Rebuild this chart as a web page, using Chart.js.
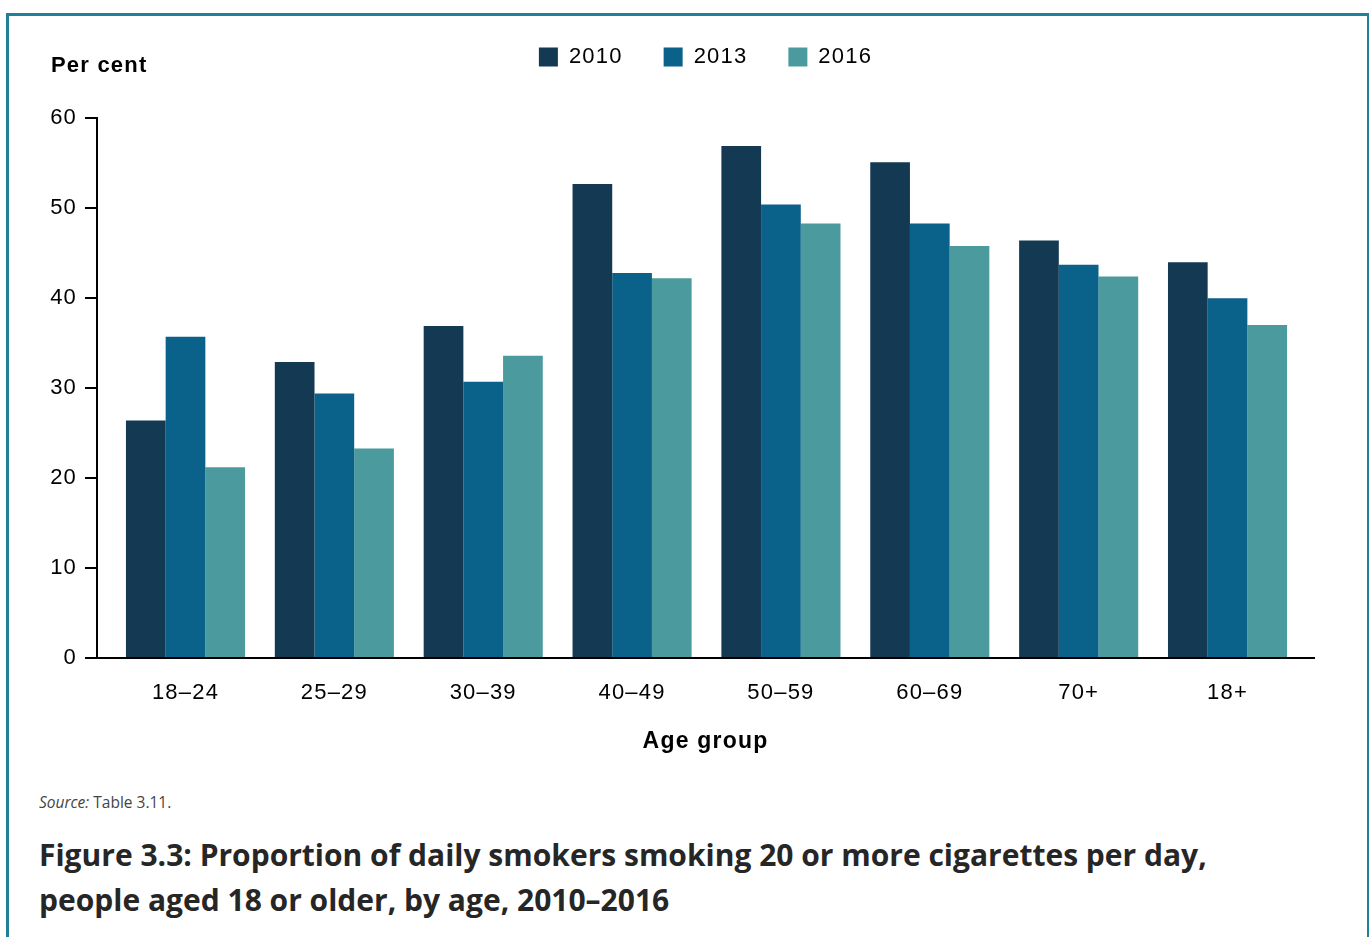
<!DOCTYPE html>
<html>
<head>
<meta charset="utf-8">
<script src="https://cdn.jsdelivr.net/npm/chart.js@4"></script>
<style>
  body { margin: 0; background: #fff; width: 1369px; height: 937px; overflow: hidden; position: relative; }
  #frame { position: absolute; left: 6px; top: 13px; width: 1358px; height: 940px; border: 3px solid #1f8097; border-bottom: none; }
  #box { position: absolute; left: 8px; top: 0px; width: 1356px; height: 760px; }
  #unit { position: absolute; left: 51px; top: 52px; font: bold 22px "Liberation Sans", Arial, sans-serif; letter-spacing: 1.2px; color: #000; }
  #source { position: absolute; left: 39px; top: 791px; font: 15.5px "Open Sans", sans-serif; color: #444; }
  #caption { position: absolute; left: 39px; top: 832px; font: bold 30px "Open Sans", sans-serif; color: #262626; line-height: 45px; }
</style>
</head>
<body>
<div id="frame"></div>
<div id="box"><canvas id="chart"></canvas></div>
<div id="unit">Per cent</div>
<div id="source"><i>Source:</i> Table 3.11.</div>
<div id="caption">Figure 3.3: Proportion of daily smokers smoking 20 or more cigarettes per day,<br>people aged 18 or older, by age, 2010–2016</div>
<script>
// categorias e valores
const ageGroups = ['18–24', '25–29', '30–39', '40–49', '50–59', '60–69', '70+', '18+'];
const y2010 = [26.4, 32.9, 36.9, 52.7, 56.9, 55.1, 46.4, 44.0];
const y2013 = [35.7, 29.4, 30.7, 42.8, 50.4, 48.3, 43.7, 40.0];
const y2016 = [21.2, 23.3, 33.6, 42.2, 48.3, 45.8, 42.4, 37.0];
const yTicks = [0, 10, 20, 30, 40, 50, 60];

const font = 'Liberation Sans';
const toPoints = vals => vals.map((v, i) => ({ x: i, y: v }));

// espaçamento entre letras no canvas
const spacing = {
  id: 'spacing',
  beforeLayout: c => { c.ctx.letterSpacing = '1.2px'; },
  beforeDraw: c => { c.ctx.letterSpacing = '1.2px'; }
};

const data = {
  datasets: [
    { label: '2010', data: toPoints(y2010), backgroundColor: '#133a52' },
    { label: '2013', data: toPoints(y2013), backgroundColor: '#0a6189' },
    { label: '2016', data: toPoints(y2016), backgroundColor: '#4b9a9e' }
  ]
};

const config = {
  type: 'bar',
  data: data,
  plugins: [spacing],
  options: {
    responsive: true,
    maintainAspectRatio: false,
    animation: false,
    layout: { padding: { left: 0, right: 50, top: 5, bottom: 0 } },
    datasets: { bar: { categoryPercentage: 0.8, barPercentage: 1.0 } },
    plugins: {
      tooltip: { enabled: false },
      legend: {
        position: 'top',
        fullSize: false,
        labels: {
          boxWidth: 19, boxHeight: 19, padding: 41,
          color: '#000',
          font: { family: font, size: 22 }
        }
      },
      // espaço entre a legenda e o gráfico
      subtitle: { display: true, text: '', weight: 500, font: { size: 1 }, padding: { top: 39, bottom: 0 } }
    },
    scales: {
      x: {
        type: 'linear',
        offset: false,
        min: -0.5945, max: 7.581,
        afterBuildTicks: s => { s.ticks = ageGroups.map((_, i) => ({ value: i })); },
        afterFit: s => { s.height = 102; },
        grid: { display: false, offset: false },
        border: { display: true, color: '#000', width: 2 },
        ticks: { color: '#000', font: { family: font, size: 22 }, padding: 14, callback: v => ageGroups[v] },
        title: { display: true, text: 'Age group', color: '#000', font: { family: font, size: 23, weight: 'bold' }, padding: { top: 0, bottom: 5 } }
      },
      y: {
        min: 0, max: 60,
        afterBuildTicks: s => { s.ticks = yTicks.map(v => ({ value: v })); },
        afterFit: s => { s.width = 89; },
        grid: { drawOnChartArea: false, color: '#000', lineWidth: 2, tickLength: 12 },
        border: { display: true, color: '#000', width: 2 },
        ticks: { color: '#000', font: { family: font, size: 22 }, padding: 8 }
      }
    }
  }
};

new Chart(document.getElementById('chart'), config);
</script>
</body>
</html>
